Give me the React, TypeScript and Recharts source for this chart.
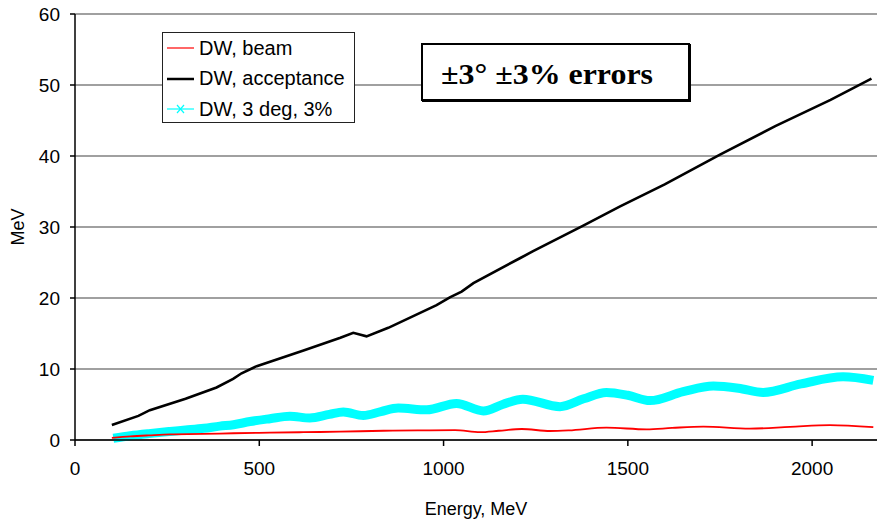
import React from 'react';
import { LineChart, Line, XAxis, YAxis, CartesianGrid } from 'recharts';

// DW, acceptance (black)
const accE = [100, 172, 203, 300, 384, 429, 452, 493, 620, 720, 755, 791, 850, 981, 1017, 1049, 1081, 1207, 1243, 1379, 1479, 1600, 1750, 1900, 2050, 2161];
const accV = [2.1, 3.4, 4.2, 5.8, 7.4, 8.6, 9.4, 10.4, 12.6, 14.4, 15.1, 14.6, 15.8, 19.0, 20.1, 20.9, 22.1, 25.6, 26.6, 30.2, 32.9, 36.0, 40.2, 44.2, 47.9, 50.9];

// DW, beam (red)
const beamE = [100, 150, 200, 258, 348, 430, 529, 620, 719, 837, 930, 1031, 1099, 1150, 1212, 1289, 1340, 1442, 1551, 1620, 1705, 1831, 1940, 2048, 2166];
const beamV = [0.3, 0.5, 0.65, 0.8, 0.85, 0.95, 1.03, 1.1, 1.17, 1.3, 1.35, 1.4, 1.1, 1.3, 1.55, 1.27, 1.35, 1.74, 1.5, 1.7, 1.88, 1.6, 1.85, 2.1, 1.8];

// DW, 3 deg, 3% (cyan)
const errE = [104, 150, 200, 258, 300, 350, 393, 430, 475, 529, 583, 637, 690, 728, 782, 830, 877, 954, 1035, 1108, 1160, 1215, 1316, 1380, 1442, 1500, 1560, 1650, 1732, 1800, 1867, 1970, 2084, 2166];
const errV = [0.25, 0.6, 0.9, 1.2, 1.4, 1.65, 1.95, 2.15, 2.6, 3.0, 3.35, 3.1, 3.6, 3.95, 3.45, 4.0, 4.5, 4.25, 5.15, 4.1, 5.0, 5.75, 4.7, 5.8, 6.7, 6.3, 5.55, 6.8, 7.6, 7.3, 6.7, 7.9, 8.9, 8.4];

const xTicks = [0, 500, 1000, 1500, 2000];
const yTicks = [0, 10, 20, 30, 40, 50, 60];

const seriesNames = ['DW, beam', 'DW, acceptance', 'DW, 3 deg, 3%'];
const seriesColors = ['#ff0000', '#000000', '#00ffff'];

const toData = (xs: number[], ys: number[]) => xs.map((e, i) => ({ e, v: ys[i] }));
const accData = toData(accE, accV);
const beamData = toData(beamE, beamV);
const errData = toData(errE, errV);

const FONT = '"Liberation Sans", Arial, sans-serif';

const LegendBox = () => (
  <div
    style={{
      position: 'absolute',
      left: 162,
      top: 32,
      width: 193,
      height: 91,
      boxSizing: 'border-box',
      border: '1.5px solid #222',
      background: '#fff',
      fontFamily: FONT,
      fontSize: 20,
      color: '#000',
    }}
  >
    {seriesNames.map((name, i) => (
      <div
        key={name}
        style={{ position: 'absolute', left: 0, top: 2 + i * 30.5, height: 26, display: 'flex', alignItems: 'center', whiteSpace: 'nowrap' }}
      >
        <svg width={36} height={26} style={{ display: 'block' }}>
          <line x1={4} x2={31} y1={13} y2={13} stroke={seriesColors[i]} strokeWidth={i === 1 ? 2.5 : 1.2} />
          {i === 2 && (
            <g stroke={seriesColors[i]} strokeWidth={1.2}>
              <line x1={14} y1={9} x2={21} y2={17} />
              <line x1={14} y1={17} x2={21} y2={9} />
            </g>
          )}
        </svg>
        <span>{name}</span>
      </div>
    ))}
  </div>
);

const NoteBox = () => (
  <div
    style={{
      position: 'absolute',
      left: 421,
      top: 43,
      width: 269,
      height: 58,
      boxSizing: 'border-box',
      border: '2px solid #000',
      boxShadow: '1px 1px 0 #000',
      background: '#fff',
    }}
  >
    <svg width={265} height={54} style={{ display: 'block' }}>
      <text
        x={18}
        y={39}
        textLength={212}
        lengthAdjust="spacingAndGlyphs"
        style={{ fontFamily: '"Liberation Serif", "Times New Roman", serif', fontWeight: 'bold', fontSize: 30 }}
      >
        ±3° ±3% errors
      </text>
    </svg>
  </div>
);

export default function App() {
  return (
    <div style={{ position: 'absolute', left: 0, top: 0, width: 877, height: 523, background: '#fff', overflow: 'hidden' }}>
      <LineChart width={877} height={523} margin={{ top: 14, right: 0, bottom: 0, left: 0 }}>
        <CartesianGrid vertical={false} horizontal stroke="#808080" strokeWidth={1.5} />
        <XAxis
          dataKey="e"
          type="number"
          domain={[0, 2176]}
          ticks={xTicks}
          allowDataOverflow
          height={83}
          axisLine={{ stroke: '#000', strokeWidth: 1.5 }}
          tickLine={{ stroke: '#000', strokeWidth: 1.5 }}
          tickSize={6}
          tickMargin={16}
          tick={{ fill: '#000', fontFamily: FONT, fontSize: 19 }}
          label={{ value: 'Energy, MeV', position: 'insideBottom', offset: 8, fill: '#000', fontFamily: FONT, fontSize: 18 }}
        />
        <YAxis
          type="number"
          domain={[0, 60]}
          ticks={yTicks}
          width={75}
          axisLine={{ stroke: '#000', strokeWidth: 1.5 }}
          tickLine={{ stroke: '#000', strokeWidth: 1.5 }}
          tickSize={5}
          tickMargin={10}
          tick={{ fill: '#000', fontFamily: FONT, fontSize: 19 }}
          label={{ value: 'MeV', angle: -90, position: 'insideLeft', offset: 18, fill: '#000', fontFamily: FONT, fontSize: 18, style: { textAnchor: 'middle' } }}
        />
        <Line data={errData} dataKey="v" type="monotone" stroke="#00ffff" strokeWidth={9} dot={false} isAnimationActive={false} />
        <Line data={beamData} dataKey="v" type="monotone" stroke="#ff0000" strokeWidth={1.8} dot={false} isAnimationActive={false} />
        <Line data={accData} dataKey="v" type="linear" stroke="#000000" strokeWidth={2.6} dot={false} isAnimationActive={false} />
      </LineChart>
      <LegendBox />
      <NoteBox />
    </div>
  );
}
